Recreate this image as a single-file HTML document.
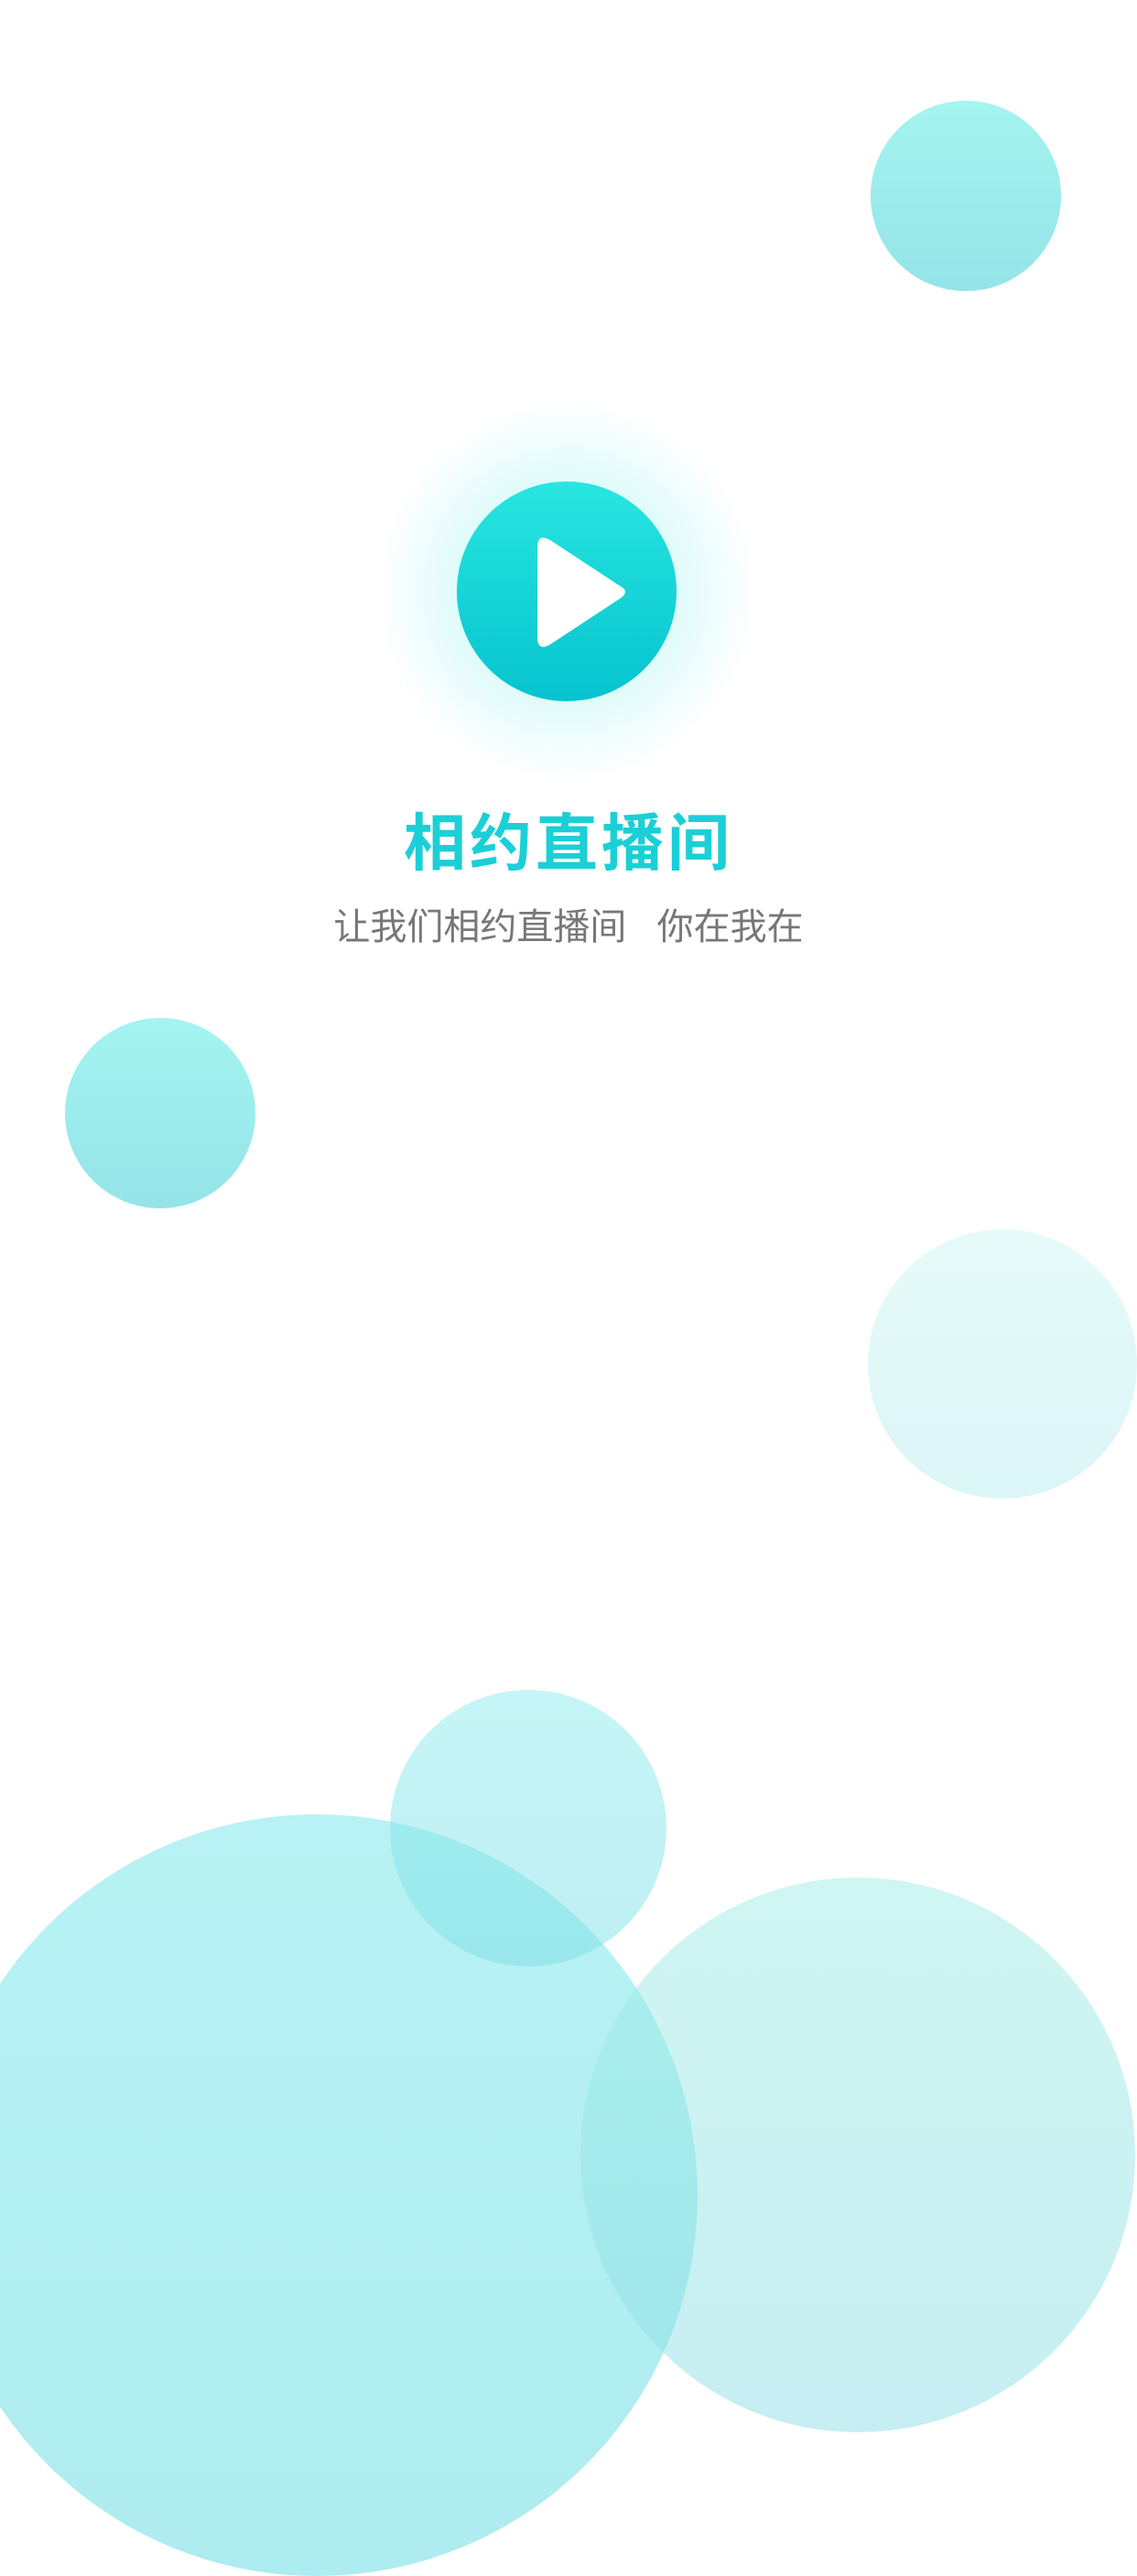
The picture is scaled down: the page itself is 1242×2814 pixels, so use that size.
<!DOCTYPE html>
<html><head><meta charset="utf-8"><style>
html,body{margin:0;padding:0;background:#fff;}
body{width:1242px;height:2688px;position:relative;overflow:hidden;font-family:"Liberation Sans","Noto Sans CJK SC",sans-serif;}
.c{position:absolute;border-radius:50%;}
</style></head><body>
<div class="c" style="left:951px;top:110px;width:208px;height:208px;background:linear-gradient(#a4f4f0,#94e4e8);"></div>
<div class="c" style="left:71px;top:1112px;width:208px;height:208px;background:linear-gradient(#a4f4f0,#94e4e8);"></div>
<div class="c" style="left:948px;top:1343px;width:294px;height:294px;background:linear-gradient(#e6fbf9,#dcf5f7);"></div>
<div class="c" style="left:-70px;top:1982px;width:832px;height:832px;background:linear-gradient(#7ee8ea,#6adce4);opacity:0.55;"></div>
<div class="c" style="left:634px;top:2051px;width:606px;height:606px;background:linear-gradient(#a0ede6,#8edde4);opacity:0.5;"></div>
<div class="c" style="left:426px;top:1846px;width:302px;height:302px;background:linear-gradient(#8eecef,#7ddfe6);opacity:0.5;"></div>
<div class="c" style="left:409px;top:436px;width:420px;height:420px;background:radial-gradient(circle,rgba(40,225,225,0.35) 0%,rgba(40,225,225,0.12) 45%,rgba(255,255,255,0) 70%);"></div>
<div class="c" style="left:499px;top:526px;width:240px;height:240px;background:linear-gradient(#28e6e0,#06c3cf);"></div>
<svg style="position:absolute;left:499px;top:526px" width="240" height="240"><path d="M88 72 Q88 56 102 64 L178 114 Q190 120 178 128 L102 178 Q88 186 88 170 Z" fill="#fff"/></svg>
<div style="position:absolute;left:0;width:1242px;top:866px;text-align:center;font-size:68px;font-weight:bold;color:#1ccfd6;letter-spacing:4px;">相约直播间</div>
<div style="position:absolute;left:0;width:1242px;top:980px;text-align:center;font-size:40px;color:#777;">让我们相约直播间&nbsp;&nbsp;&nbsp;你在我在</div>
</body></html>
